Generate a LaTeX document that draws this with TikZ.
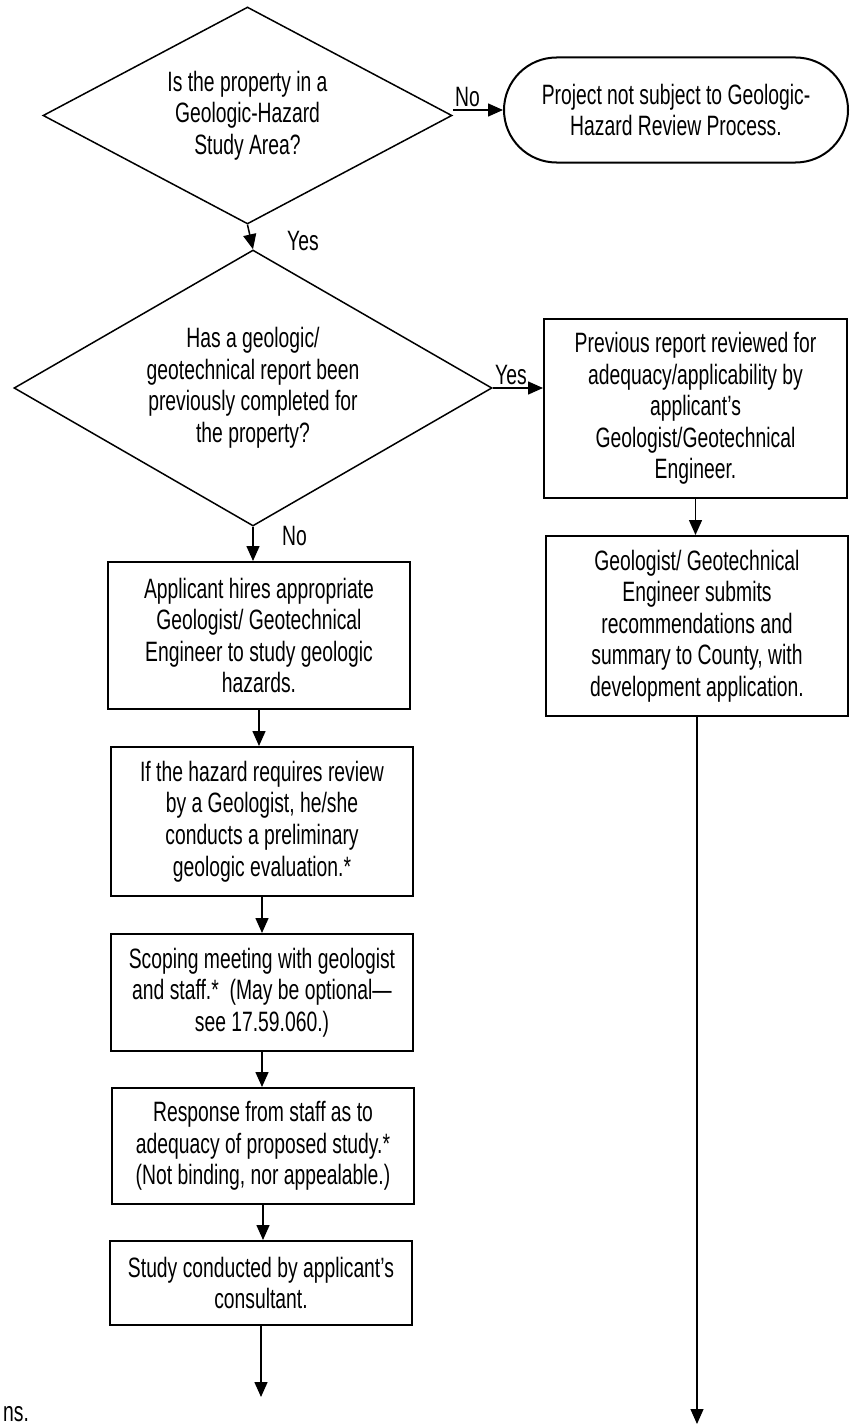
\documentclass[tikz,border=0pt]{standalone}
\usepackage{fontspec}
\usetikzlibrary{shapes.geometric,shapes.misc,arrows.meta}
\newfontfamily\agencyfnt[FakeStretch=0.69]{Liberation Sans}
\newcommand\flowfnt{\agencyfnt\fontsize{28}{31.5}\selectfont}
\tikzset{
  txt/.style={font=\flowfnt, align=center, inner sep=0pt},
  procbox/.style={txt, draw, rectangle, line width=2pt},
  decision/.style={txt, draw, diamond, line width=1.5pt},
  terminal/.style={txt, draw, rounded rectangle, line width=2pt},
  flowarrow/.style={line width=1.5pt, -{Triangle[length=15pt,width=13pt]}},
  lbl/.style={font=\flowfnt, inner sep=0pt}
}
\begin{document}
\begin{tikzpicture}[x=1pt,y=-1pt]
\useasboundingbox (0,0) rectangle (849,1426);
% decisions
\node[decision, shape aspect=1.885, minimum width=409pt, minimum height=217pt] (d1) at (247.5,115.5)
  {Is the property in a\\Geologic-Hazard\\Study Area?};
\node[decision, shape aspect=1.732, minimum width=478pt, minimum height=276pt] (d2) at (253,388)
  {Has a geologic/\\geotechnical report been\\previously completed for\\the property?};
% terminal
\node[terminal, minimum width=344pt, minimum height=105pt] (rb) at (676,110)
  {Project not subject to Geologic-\\Hazard Review Process.};
% right column
\node[procbox, minimum width=303pt, minimum height=179pt] (r1) at (695.5,408.5)
  {Previous report reviewed for\\adequacy/applicability by\\applicant’s\\Geologist/Geotechnical\\Engineer.};
\node[procbox, minimum width=302pt, minimum height=180pt] (r2) at (697,626)
  {Geologist/ Geotechnical\\Engineer submits\\recommendations and\\summary to County, with\\development application.};
% left column
\node[procbox, minimum width=302pt, minimum height=147pt] (b1) at (259,635.5)
  {Applicant hires appropriate\\Geologist/ Geotechnical\\Engineer to study geologic\\hazards.};
\node[procbox, minimum width=302pt, minimum height=149pt] (b2) at (262,821.5)
  {If the hazard requires review\\by a Geologist, he/she\\conducts a preliminary\\geologic evaluation.*};
\node[procbox, minimum width=302pt, minimum height=117pt] (b3) at (262,992.5)
  {Scoping meeting with geologist\\and staff.*\ \ (May be optional—\\see 17.59.060.)};
\node[procbox, minimum width=302pt, minimum height=116pt] (b4) at (263,1146)
  {Response from staff as to\\adequacy of proposed study.*\\(Not binding, nor appealable.)};
\node[procbox, minimum width=302pt, minimum height=84pt] (b5) at (261,1283)
  {Study conducted by applicant’s\\consultant.};
\coordinate (endL) at (261,1397);
\coordinate (endR) at (696,1424);
% connectors
\draw[flowarrow] (d1.east |- rb.west) -- (rb.west);
\draw[flowarrow] (d1.south) -- (d2.north);
\draw[flowarrow] (d2.east) -- (d2.east -| r1.west);
\draw[flowarrow] (r1.south) -- (r1.south |- r2.north);
\draw[flowarrow, line width=1.3pt] (r2.south) -- (r2.south |- endR);
\draw[flowarrow] (d2.south) -- (d2.south |- b1.north);
\draw[flowarrow] (b1.south) -- (b1.south |- b2.north);
\draw[flowarrow] (b2.south) -- (b2.south |- b3.north);
\draw[flowarrow] (b3.south) -- (b3.south |- b4.north);
\draw[flowarrow] (b4.south) -- (b4.south |- b5.north);
\draw[flowarrow] (b5.south) -- (endL);
% labels
\node[lbl, anchor=base west] (lno1) at (455,107) {No};
\node[lbl, anchor=base west] (lyes1) at (287,250) {Yes};
\node[lbl, anchor=base west] (lyes2) at (495,384) {Yes};
\node[lbl, anchor=base west] (lno2) at (282,545) {No};
\node[lbl, anchor=base west] (lns) at (3,1421) {ns.};
\end{tikzpicture}
\end{document}
